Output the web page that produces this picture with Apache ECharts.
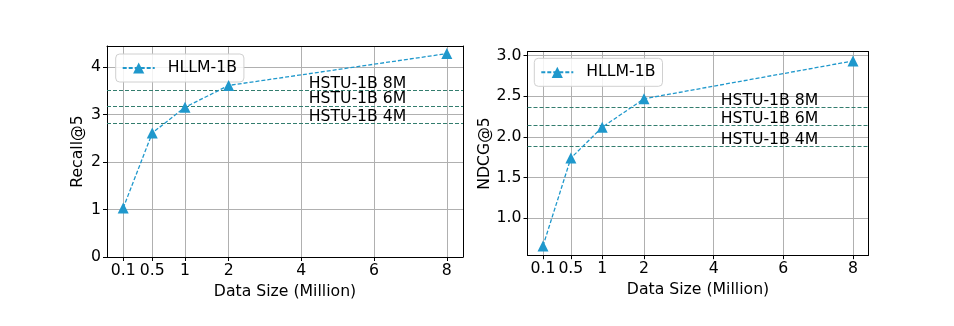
<!DOCTYPE html>
<html>
<head>
<meta charset="utf-8">
<script src="https://cdn.jsdelivr.net/npm/echarts@6/dist/echarts.min.js"></script>
<style>
  html, body { margin: 0; padding: 0; background: #fff; }
  #chart { width: 954px; height: 326px; }
</style>
</head>
<body>
<div id="chart"></div>
<script>
// Data sizes (million samples) shown as x ticks, and where each one sits on the x axis
const sizeTicks = [0.1, 0.5, 1, 2, 4, 6, 8];
const tickPos = [-0.9, -0.1, 0.8, 2, 4, 6, 8];

// HLLM-1B trained on growing data sizes
const hllmSizes = [0.1, 0.5, 1, 2, 8];
const recallHLLM = [1.03, 2.61, 3.15, 3.61, 4.28];
const ndcgHLLM = [0.66, 1.74, 2.12, 2.47, 2.935];

// HSTU-1B reference levels
const hstuNames = ['HSTU-1B 8M', 'HSTU-1B 6M', 'HSTU-1B 4M'];
const recallHSTU = [3.50, 3.17, 2.81];
const ndcgHSTU = [2.36, 2.14, 1.88];

const recallTicks = [0, 1, 2, 3, 4];
const ndcgTicks = [1.0, 1.5, 2.0, 2.5, 3.0];

const FONT = 'DejaVu Sans';
const FS = 15.7;
const BLUE = '#1f98cc';
const GREEN = '#337d6e';
const GRIDC = '#b0b0b0';

const posOf = s => tickPos[sizeTicks.indexOf(s)];
const sizeLabel = v => {
  const i = tickPos.findIndex(p => Math.abs(p - v) < 1e-6);
  return i < 0 ? '' : String(sizeTicks[i]);
};

const txt = { fontFamily: FONT, fontSize: FS, color: '#000', opacity: 1, textBorderWidth: 0 };

function xAxis(gridIndex) {
  return {
    type: 'value', gridIndex, min: -1.345, max: 8.445,
    name: 'Data Size (Million)', nameLocation: 'middle', nameGap: 24,
    nameTextStyle: { ...txt, lineHeight: 16 },
    axisLine: { show: true, onZero: false, lineStyle: { color: '#000', width: 1 } },
    axisTick: { show: true, inside: false, length: 4, customValues: tickPos, lineStyle: { color: '#000', width: 1 } },
    axisLabel: { ...txt, customValues: tickPos, formatter: sizeLabel, margin: 6, lineHeight: 16 },
    splitLine: { show: true, lineStyle: { color: GRIDC, width: 1 } }
  };
}

function yAxis(gridIndex, name, min, max, ticks, fmt, gap) {
  return {
    type: 'value', gridIndex, min, max,
    name, nameLocation: 'middle', nameGap: gap, nameRotate: 90,
    nameTextStyle: { ...txt, lineHeight: 16 },
    axisLine: { show: true, onZero: false, lineStyle: { color: '#000', width: 1 } },
    axisTick: { show: true, inside: false, length: 4, customValues: ticks, lineStyle: { color: '#000', width: 1 } },
    axisLabel: { ...txt, customValues: ticks, formatter: fmt, margin: 6 },
    splitLine: { show: true, lineStyle: { color: GRIDC, width: 1 } }
  };
}

// frame lines on the top and right edges of each panel
function frameAxes(gridIndex) {
  const frame = { show: true, onZero: false, lineStyle: { color: '#000', width: 1 } };
  return {
    x: { type: 'value', gridIndex, position: 'top', min: 0, max: 1, axisLine: frame,
         axisTick: { show: false }, axisLabel: { show: false }, splitLine: { show: false } },
    y: { type: 'value', gridIndex, position: 'right', min: 0, max: 1, axisLine: frame,
         axisTick: { show: false }, axisLabel: { show: false }, splitLine: { show: false } }
  };
}

function hllmSeries(xi, yi, values) {
  return {
    type: 'line', name: 'HLLM-1B', xAxisIndex: xi, yAxisIndex: yi,
    data: hllmSizes.map((s, i) => [posOf(s), values[i]]),
    symbol: 'triangle', symbolSize: 11, showAllSymbol: true,
    itemStyle: { color: BLUE },
    lineStyle: { color: BLUE, width: 1.3, type: [4, 2] },
    z: 5
  };
}

function hstuSeries(xi, yi, values) {
  return [
    {
      type: 'line', xAxisIndex: xi, yAxisIndex: yi, data: [], silent: true,
      markLine: {
        silent: true, symbol: 'none', animation: false,
        label: { show: false },
        lineStyle: { color: GREEN, width: 1.2, type: [4, 2] },
        data: values.map(v => ({ yAxis: v }))
      }
    },
    {
      type: 'scatter', xAxisIndex: xi, yAxisIndex: yi, symbolSize: 0, silent: true,
      data: values.map((v, i) => ({ value: [4.2, v], name: hstuNames[i] })),
      label: {
        ...txt, show: true, position: [0, 0], align: 'left', verticalAlign: 'bottom',
        formatter: p => p.name, lineHeight: 14
      },
      z: 6
    }
  ];
}

const f0 = frameAxes(0), f1 = frameAxes(1);

function legend(left, top) {
  return {
    data: ['HLLM-1B'], left, top, orient: 'vertical',
    backgroundColor: 'rgba(255,255,255,0.85)', borderColor: '#d0d0d0', borderWidth: 1, borderRadius: 4,
    padding: [6, 7, 6, 6], itemWidth: 32, itemHeight: 14,
    textStyle: { ...txt, padding: [0, 0, 0, 8] }
  };
}

const option = {
  animation: false,
  backgroundColor: '#fff',
  grid: [
    { left: 107, top: 46, width: 356, height: 211 },
    { left: 527.5, top: 51.7, width: 341, height: 203.5 }
  ],
  legend: [legend(115.7, 54), legend(534.3, 58.3)],
  xAxis: [xAxis(0), xAxis(1), f0.x, f1.x],
  yAxis: [
    yAxis(0, 'Recall@5', 0, 4.44, recallTicks, v => String(v), 21),
    yAxis(1, 'NDCG@5', 0.546, 3.049, ndcgTicks, v => v.toFixed(1), 33),
    f0.y, f1.y
  ],
  series: [
    ...hstuSeries(0, 0, recallHSTU),
    ...hstuSeries(1, 1, ndcgHSTU),
    hllmSeries(0, 0, recallHLLM),
    hllmSeries(1, 1, ndcgHLLM)
  ]
};

const chart = echarts.init(document.getElementById('chart'), null, { renderer: 'canvas' });
chart.setOption(option);
</script>
</body>
</html>
